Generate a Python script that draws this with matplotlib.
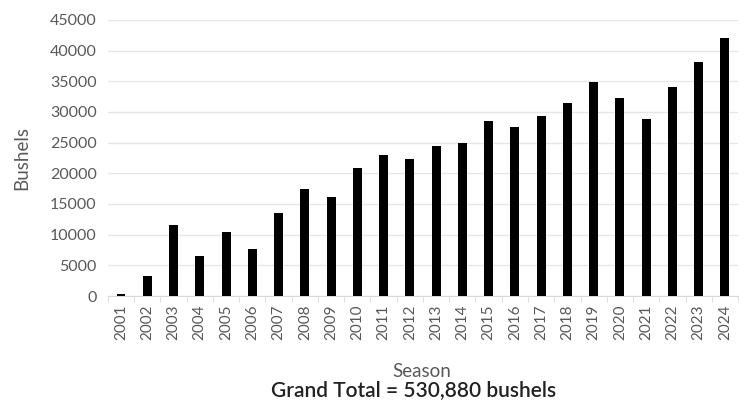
import matplotlib
matplotlib.use("Agg")
import matplotlib.pyplot as plt
import numpy as np

seasons = [str(y) for y in range(2001, 2025)]
bushels = [400, 3200, 11500, 6600, 10400, 7600, 13500, 17400, 16100, 20900,
           22900, 22300, 24400, 25000, 28500, 27600, 29400, 31400, 34800, 32300,
           28800, 34000, 38200, 42100]
yticks = list(range(0, 45001, 5000))

plt.rcParams['font.family'] = ['Lato', 'DejaVu Sans']

fig = plt.figure(figsize=(7.44, 4.05), dpi=100)
ax = fig.add_axes([0.145, 0.269, 0.847, 0.682])

x = np.arange(len(seasons))
ax.bar(x, bushels, width=0.34, color="black", zorder=3)

ax.set_xlim(-0.5, len(seasons) - 0.5)
ax.set_ylim(0, 45000)
ax.set_yticks(yticks)
ax.set_yticklabels([str(v) for v in yticks], color="#595959", fontsize=11.5)
ax.set_xticks(x)
ax.set_xticklabels(seasons, rotation=90, color="#595959", fontsize=11)
ax.set_xticks(np.arange(-0.5, len(seasons), 1), minor=True)
ax.tick_params(axis="x", which="major", length=0, pad=6)
ax.tick_params(axis="x", which="minor", length=4, color="#d9d9d9")
ax.tick_params(axis="y", length=0, pad=8)

ax.grid(axis="y", color="#e6e6e6", linewidth=1, zorder=0)
for s in ["top", "right", "left"]:
    ax.spines[s].set_visible(False)
ax.spines["bottom"].set_color("#d9d9d9")

ax.set_ylabel("Bushels", color="#595959", fontsize=13.5)
ax.yaxis.set_label_coords(-0.123, 0.5)
fig.text(0.567, 0.068, "Season", ha="center", va="baseline", color="#595959", fontsize=13.5)
fig.text(0.556, 0.022, "Grand Total = 530,880 bushels", ha="center", va="baseline",
         color="#222222", fontsize=15, weight="semibold")

fig.savefig("out.png", dpi=100)
